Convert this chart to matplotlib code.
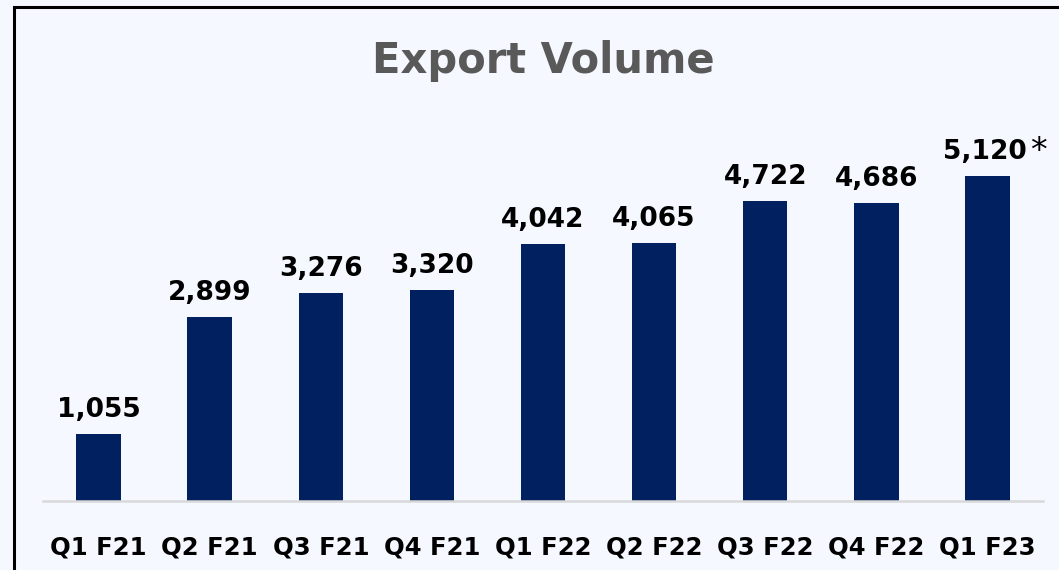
import matplotlib.pyplot as plt
from matplotlib.patches import Rectangle

quarters = ["Q1 F21", "Q2 F21", "Q3 F21", "Q4 F21", "Q1 F22",
            "Q2 F22", "Q3 F22", "Q4 F22", "Q1 F23"]
volume = [1055, 2899, 3276, 3320, 4042, 4065, 4722, 4686, 5120]
labels = ["1,055", "2,899", "3,276", "3,320", "4,042",
          "4,065", "4,722", "4,686", "5,120"]

bg = "#F5F8FE"
W, H = 1059, 570

fig = plt.figure(figsize=(W / 100, H / 100), dpi=100, facecolor=bg)
plt.rcParams['font.family'] = ['DejaVu Sans']

# frame around the chart (cut off at right and bottom as in the original)
fig.patches.append(Rectangle((14 / W, -0.1), 1.2, 1 - 7 / H + 0.1,
                             transform=fig.transFigure, fill=False,
                             edgecolor="black", linewidth=2.2))

ax = fig.add_axes([43 / W, (H - 501) / H, 1000 / W, 401 / H])
ax.set_facecolor(bg)

x = range(len(quarters))
bars = ax.bar(x, volume, width=0.4, color="#002060")

for xi, v, lab in zip(x, volume, labels):
    ax.annotate(lab, (xi, v), xytext=(-2 if xi == 8 else 0, 8),
                textcoords="offset points", ha="center", va="bottom",
                fontsize=19, fontweight="bold", color="black")
# asterisk on the last value
ax.annotate("*", (8, volume[8]), xytext=(37, 6),
            textcoords="offset points", ha="center", va="bottom",
            fontsize=24, color="black")

ax.set_xlim(-0.5, len(quarters) - 0.5)
ax.set_ylim(0, 401 / (67 / 1055))
ax.set_yticks([])
ax.set_xticks(list(x))
ax.set_xticklabels(quarters, fontsize=17.5, fontweight="bold")
ax.tick_params(axis="x", length=0, pad=25)
for s in ["top", "left", "right"]:
    ax.spines[s].set_visible(False)
ax.spines["bottom"].set_color("#D9D9D9")
ax.spines["bottom"].set_linewidth(1.8)

fig.text(543 / W, 1 - 61 / H, "Export Volume", ha="center", va="center",
         fontsize=30, fontweight="bold", color="#595959")

fig.savefig("out.png", dpi=100, facecolor=bg)
